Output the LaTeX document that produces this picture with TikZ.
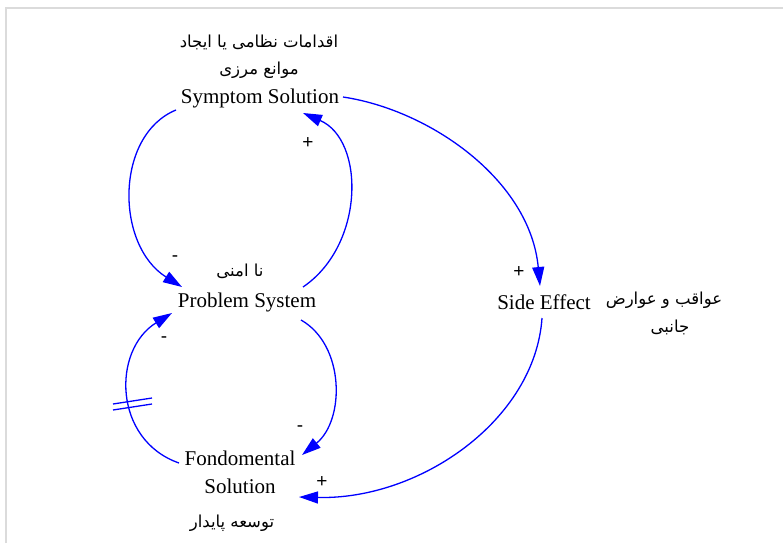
\documentclass[tikz,border=0pt]{standalone}
\usepackage{fontspec}
\setmainfont{Liberation Serif}
\newfontfamily\arabicfont[Script=Arabic]{DejaVu Sans}
\newfontfamily\signfont{Liberation Sans}
\TeXXeTstate=1
\usetikzlibrary{arrows.meta}
\tikzset{
  link/.style={draw=blue, line width=1.3pt, -{Triangle[length=19pt,width=12pt]}},
  entext/.style={font=\fontsize{21}{28}\selectfont, inner sep=0pt, align=center},
  artext/.style={font=\arabicfont\fontsize{16.5}{19}\selectfont, inner sep=0pt},
  signtext/.style={font=\signfont\fontsize{19}{21}\selectfont, inner sep=0pt},
  delaymark/.style={draw=blue, line width=1.3pt},
  frameline/.style={draw=black!14, line width=2pt}
}
\begin{document}
\begin{tikzpicture}[x=1pt,y=-1pt]
\useasboundingbox (0,0) rectangle (783,543);
\fill[white] (0,0) rectangle (783,543);
% frame
\coordinate (fbl) at (6,543);
\coordinate (ftl) at (6,8);
\coordinate (ftr) at (783,8);
\draw[frameline] (fbl) -- (ftl) -- (ftr);

% nodes
\node[artext] (ss1) at (259,42) {\beginR اقدامات نظامی یا ایجاد\endR};
\node[artext] (ss2) at (259,70) {\beginR موانع مرزی\endR};
\node[entext] (ss) at (260,98) {Symptom Solution};
\node[artext] (ps1) at (240,271) {\beginR نا امنی\endR};
\node[entext] (ps) at (247,302) {Problem System};
\node[entext] (se) at (544,302) {Side Effect};
\node[artext] (se1) at (664,300) {\beginR عواقب و عوارض\endR};
\node[artext] (se2) at (670,327) {\beginR جانبی\endR};
\node[entext] (fs) at (240,472) {Fondomental\\Solution};
\node[artext] (fs1) at (232,523) {\beginR توسعه پایدار\endR};

% endpoints
\coordinate (a1s) at (176,110);
\coordinate (a1e) at (182,287);
\coordinate (a2s) at (303,287);
\coordinate (a2e) at (303,113);
\coordinate (a3s) at (343,97);
\coordinate (a3e) at (540,286);
\coordinate (a4s) at (542,318);
\coordinate (a4e) at (299,497);
\coordinate (a5s) at (301,320);
\coordinate (a5e) at (302,455);
\coordinate (a6s) at (179,463);
\coordinate (a6e) at (172,313);

% links
\draw[link] (a1s) .. controls (115,135) and (115,245) .. (a1e);
\draw[link] (a2s) .. controls (365,245) and (365,140) .. (a2e);
\draw[link] (a3s) .. controls (430,110) and (530,180) .. (a3e);
\draw[link] (a4s) .. controls (535,420) and (420,500) .. (a4e);
\draw[link] (a5s) .. controls (345,345) and (345,420) .. (a5e);
\draw[link] (a6s) .. controls (113,440) and (112,350) .. (a6e);

% delay mark
\coordinate (d1a) at (113,404);
\coordinate (d1b) at (152,398);
\coordinate (d2a) at (113,410);
\coordinate (d2b) at (152,404);
\draw[delaymark] (d1a) -- (d1b);
\draw[delaymark] (d2a) -- (d2b);

% polarity signs
\node[signtext] (p1) at (175,259) {-};
\node[signtext] (p2) at (308,143) {+};
\node[signtext] (p3) at (519,272) {+};
\node[signtext] (p4) at (322,482) {+};
\node[signtext] (p5) at (300,429) {-};
\node[signtext] (p6) at (164,340) {-};
\end{tikzpicture}
\end{document}
